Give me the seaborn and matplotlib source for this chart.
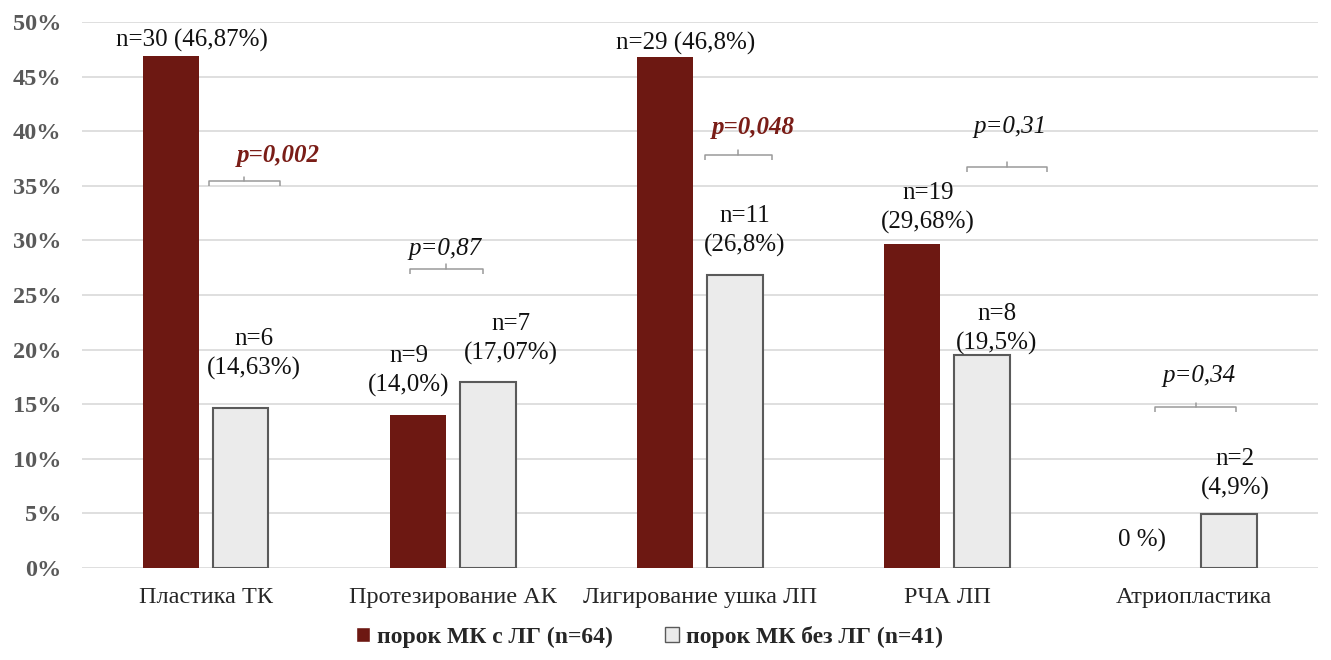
import matplotlib
matplotlib.use("Agg")
import matplotlib.pyplot as plt
import seaborn as sns
import pandas as pd

# Categories and the two patient groups
categories = ["Пластика ТК", "Протезирование АК", "Лигирование ушка ЛП", "РЧА ЛП", "Атриопластика"]
group_with = "порок МК с ЛГ (n=64)"
group_without = "порок МК без ЛГ (n=41)"

# Share of patients (%) per procedure
values_with = [46.87, 14.0, 46.8, 29.68, 0.0]
values_without = [14.63, 17.07, 26.8, 19.5, 4.9]

# Value labels
labels_with = ["n=30 (46,87%)", "n=9\n(14,0%)", "n=29 (46,8%)", "n=19\n(29,68%)", "0 %)"]
labels_without = ["n=6\n(14,63%)", "n=7\n(17,07%)", "n=11\n(26,8%)", "n=8\n(19,5%)", "n=2\n(4,9%)"]

# p-values between groups
p_values = ["p=0,002", "p=0,87", "p=0,048", "p=0,31", "p=0,34"]
p_significant = [True, False, True, False, False]

# Placement of annotations (offset from category centre, height in %)
lab_with_pos = [(-0.057, 48.35), (-0.178, 18.04), (-0.057, 47.99), (-0.077, 33.0), (-0.21, 2.56)]
lab_without_pos = [(0.194, 19.6), (0.234, 20.97), (0.182, 30.86), (0.202, 21.9), (0.166, 8.6)]
bracket_pos = [(0.012, 0.303, 35.4), (-0.174, 0.121, 27.4), (0.02, 0.29, 37.8),
               (0.081, 0.404, 36.7), (-0.158, 0.17, 14.7)]
p_text_pos = [(0.295, 37.2), (-0.032, 28.7), (0.218, 39.7), (0.254, 39.8), (0.02, 17.0)]

df = pd.DataFrame({
    "category": categories * 2,
    "group": [group_with] * len(categories) + [group_without] * len(categories),
    "value": values_with + values_without,
})

sns.set_theme(style="white")
plt.rcParams["font.family"] = ["Liberation Serif", "DejaVu Serif"]

DARK = "#6d1812"
LIGHT = "#ebebeb"
EDGE = "#5a5a5a"

fig = plt.figure(figsize=(13.31, 6.6), dpi=100)
ax = fig.add_axes([0.0616, 0.1394, 0.9284, 0.8273])

sns.barplot(data=df, x="category", y="value", hue="group",
            palette=[DARK, LIGHT], width=0.565, gap=0.2,
            saturation=1, ax=ax, legend=True)

# Outline only the light bars
for patch in ax.containers[1]:
    patch.set_edgecolor(EDGE)
    patch.set_linewidth(1.5)
for patch in ax.containers[0]:
    patch.set_edgecolor(DARK)
    patch.set_linewidth(0)

ax.set_ylim(0, 50)
ax.set_xlim(-0.5, len(categories) - 0.5)
ax.set_yticks(range(0, 51, 5))
ax.set_yticklabels([f"{v}%" for v in range(0, 51, 5)])
ax.yaxis.grid(True, color="#dcdcdc", linewidth=1.3)
ax.set_axisbelow(True)
for s in ax.spines.values():
    s.set_visible(False)
ax.set_xlabel("")
ax.set_ylabel("")
ax.tick_params(axis="y", length=0, pad=15, labelsize=17.5, labelcolor="#595959")
ax.tick_params(axis="x", length=0, pad=14, labelsize=17.5, labelcolor="#262626")
for t in ax.get_yticklabels():
    t.set_fontweight("bold")

# Value labels
for i in range(len(categories)):
    dx, y = lab_with_pos[i]
    ax.text(i + dx, y, labels_with[i], ha="center", va="center",
            fontsize=18, color="#111111", linespacing=1.4)
    dx, y = lab_without_pos[i]
    ax.text(i + dx, y, labels_without[i], ha="center", va="center",
            fontsize=18, color="#111111", linespacing=1.4)

# p-value brackets
for i in range(len(categories)):
    x0, x1, yb = bracket_pos[i]
    xm = i + (x0 + x1) / 2
    ax.plot([i + x0, i + x0, i + x1, i + x1], [yb - 0.45, yb, yb, yb - 0.45],
            color="#9a9a9a", linewidth=1.1, solid_capstyle="butt")
    ax.plot([xm, xm], [yb, yb + 0.45], color="#9a9a9a", linewidth=1.1)
    dx, yt = p_text_pos[i]
    if p_significant[i]:
        ax.text(i + dx, yt, p_values[i], ha="center", va="baseline",
                fontsize=18, style="italic", fontweight="bold", color="#7a1d17")
    else:
        ax.text(i + dx, yt, p_values[i], ha="center", va="baseline",
                fontsize=18, style="italic", color="#111111")

# Legend below the chart
handles, lbls = ax.get_legend_handles_labels()
ax.get_legend().remove()
leg = fig.legend(handles, lbls, loc="center", bbox_to_anchor=(0.488, 1 - 637 / 660),
                 ncol=2, frameon=False, handlelength=0.6, handleheight=0.6,
                 handletextpad=0.3, columnspacing=2.2,
                 prop={"family": "Liberation Serif", "weight": "bold", "size": 17})
for h in leg.legend_handles:
    h.set_linewidth(1)
leg.legend_handles[1].set_edgecolor(EDGE)
for t in leg.get_texts():
    t.set_color("#262626")

fig.savefig("out.png", dpi=100)
